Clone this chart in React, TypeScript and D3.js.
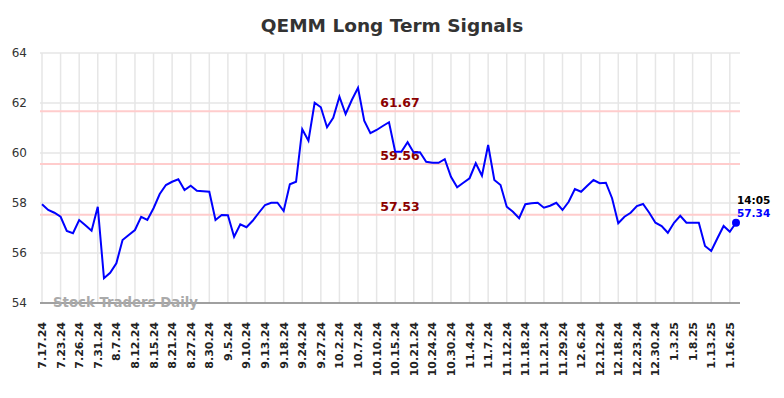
import { useEffect, useRef } from 'react'
import * as d3 from 'd3'

// closing values, one per trading session
const values = [
  57.95, 57.72, 57.61, 57.45, 56.88, 56.79, 57.32, 57.11, 56.89, 57.85,
  54.99, 55.21, 55.59, 56.52, 56.72, 56.92, 57.45, 57.32, 57.79, 58.36,
  58.72, 58.85, 58.95, 58.52, 58.69, 58.49, 58.47, 58.45, 57.32, 57.52,
  57.51, 56.65, 57.15, 57.03, 57.29, 57.61, 57.92, 58.01, 58.01, 57.68,
  58.75, 58.85, 60.95, 60.49, 62.01, 61.83, 61.03, 61.41, 62.25, 61.56,
  62.12, 62.61, 61.29, 60.79, 60.92, 61.08, 61.23, 60.05, 60.05, 60.43,
  60.01, 60.03, 59.65, 59.61, 59.61, 59.75, 59.05, 58.63, 58.81, 58.99,
  59.59, 59.09, 60.32, 58.92, 58.72, 57.85, 57.65, 57.39, 57.95, 57.99,
  58.01, 57.81, 57.89, 58.01, 57.72, 58.05, 58.56, 58.45, 58.69, 58.92,
  58.79, 58.81, 58.19, 57.19, 57.45, 57.61, 57.88, 57.96, 57.61, 57.21,
  57.08, 56.81, 57.21, 57.49, 57.21, 57.21, 57.21, 56.28, 56.08, 56.59,
  57.08, 56.85, 57.21,
]

// a date label on every third session
const tickLabels = [
  '7.17.24', '7.23.24', '7.26.24', '7.31.24', '8.7.24', '8.12.24', '8.15.24',
  '8.21.24', '8.27.24', '8.30.24', '9.5.24', '9.10.24', '9.13.24', '9.18.24',
  '9.24.24', '9.27.24', '10.2.24', '10.7.24', '10.10.24', '10.15.24',
  '10.21.24', '10.24.24', '10.30.24', '11.4.24', '11.7.24', '11.12.24',
  '11.18.24', '11.21.24', '11.29.24', '12.6.24', '12.12.24', '12.18.24',
  '12.23.24', '12.30.24', '1.3.25', '1.8.25', '1.13.25', '1.16.25',
]
const tickEvery = 3

const signals = [61.67, 59.56, 57.53]
const yTicks = [54, 56, 58, 60, 62, 64]

const lastTime = '14:05'
const lastPrice = '57.34'

export default function App() {
  const svgRef = useRef(null)

  const width = 784
  const height = 398
  const left = 40
  const right = 740
  const top = 53
  const bottom = 303

  useEffect(() => {
    const svg = d3.select(svgRef.current)
    svg.selectAll('*').remove()

    const x = d3.scaleLinear().domain([0, values.length - 1]).range([42, 736])
    const y = d3.scaleLinear().domain([54, 64]).range([bottom, top])

    svg.append('text')
      .attr('x', width / 2).attr('y', 32)
      .attr('text-anchor', 'middle')
      .attr('font-family', 'DejaVu Sans')
      .attr('font-weight', 'bold')
      .attr('font-size', 18.5)
      .attr('fill', '#333')
      .text('QEMM Long Term Signals')

    // grid
    svg.append('g').selectAll('line')
      .data(yTicks)
      .join('line')
      .attr('x1', left).attr('x2', right)
      .attr('y1', d => y(d)).attr('y2', d => y(d))
      .attr('stroke', '#e6e6e6').attr('stroke-width', 1.5)

    svg.append('g').selectAll('line')
      .data(tickLabels)
      .join('line')
      .attr('x1', (_, i) => x(i * tickEvery)).attr('x2', (_, i) => x(i * tickEvery))
      .attr('y1', top).attr('y2', bottom)
      .attr('stroke', '#e6e6e6').attr('stroke-width', 1.5)

    svg.append('g').selectAll('text')
      .data(yTicks)
      .join('text')
      .attr('x', 27).attr('y', d => y(d) + 4)
      .attr('text-anchor', 'end')
      .attr('font-family', 'DejaVu Sans')
      .attr('font-size', 12)
      .attr('fill', '#333')
      .text(d => d)

    svg.append('g').selectAll('text')
      .data(tickLabels)
      .join('text')
      .attr('transform', (_, i) => `translate(${x(i * tickEvery) + 4},322) rotate(-90)`)
      .attr('text-anchor', 'end')
      .attr('font-family', 'DejaVu Sans')
      .attr('font-weight', 'bold')
      .attr('font-size', 11)
      .attr('fill', '#222')
      .text(d => d)

    // signal levels
    svg.append('g').selectAll('line')
      .data(signals)
      .join('line')
      .attr('x1', left).attr('x2', right)
      .attr('y1', d => y(d)).attr('y2', d => y(d))
      .attr('stroke', '#ffcccc').attr('stroke-width', 2)

    svg.append('g').selectAll('text')
      .data(signals)
      .join('text')
      .attr('x', 400).attr('y', d => y(d) - 4)
      .attr('text-anchor', 'middle')
      .attr('font-family', 'DejaVu Sans')
      .attr('font-weight', 'bold')
      .attr('font-size', 12.5)
      .attr('fill', '#8b0000')
      .text(d => d.toFixed(2))

    svg.append('line')
      .attr('x1', left).attr('x2', right)
      .attr('y1', bottom).attr('y2', bottom)
      .attr('stroke', '#555').attr('stroke-width', 1)

    svg.append('text')
      .attr('x', 53).attr('y', 307)
      .attr('font-family', 'DejaVu Sans')
      .attr('font-weight', 'bold')
      .attr('font-size', 13.3)
      .attr('fill', '#aaa')
      .text('Stock Traders Daily')

    const line = d3.line<number>()
      .x((_, i) => x(i))
      .y(d => y(d))

    svg.append('path')
      .datum(values)
      .attr('d', line)
      .attr('fill', 'none')
      .attr('stroke', '#0000ff')
      .attr('stroke-width', 2)

    const li = values.length - 1
    svg.append('circle')
      .attr('cx', x(li)).attr('cy', y(values[li]))
      .attr('r', 4)
      .attr('fill', '#0000ff')

    svg.append('text')
      .attr('x', x(li) + 1).attr('y', y(values[li]) - 19)
      .attr('font-family', 'DejaVu Sans')
      .attr('font-weight', 'bold')
      .attr('font-size', 10.5)
      .attr('fill', '#000')
      .text(lastTime)

    svg.append('text')
      .attr('x', x(li) + 1).attr('y', y(values[li]) - 6)
      .attr('font-family', 'DejaVu Sans')
      .attr('font-weight', 'bold')
      .attr('font-size', 10.5)
      .attr('fill', '#0000ff')
      .text(lastPrice)
  }, [])

  return (
    <div style={{ position: 'absolute', left: 0, top: 0 }}>
      <svg ref={svgRef} width={width} height={height} style={{ display: 'block', background: '#fff' }} />
    </div>
  )
}
